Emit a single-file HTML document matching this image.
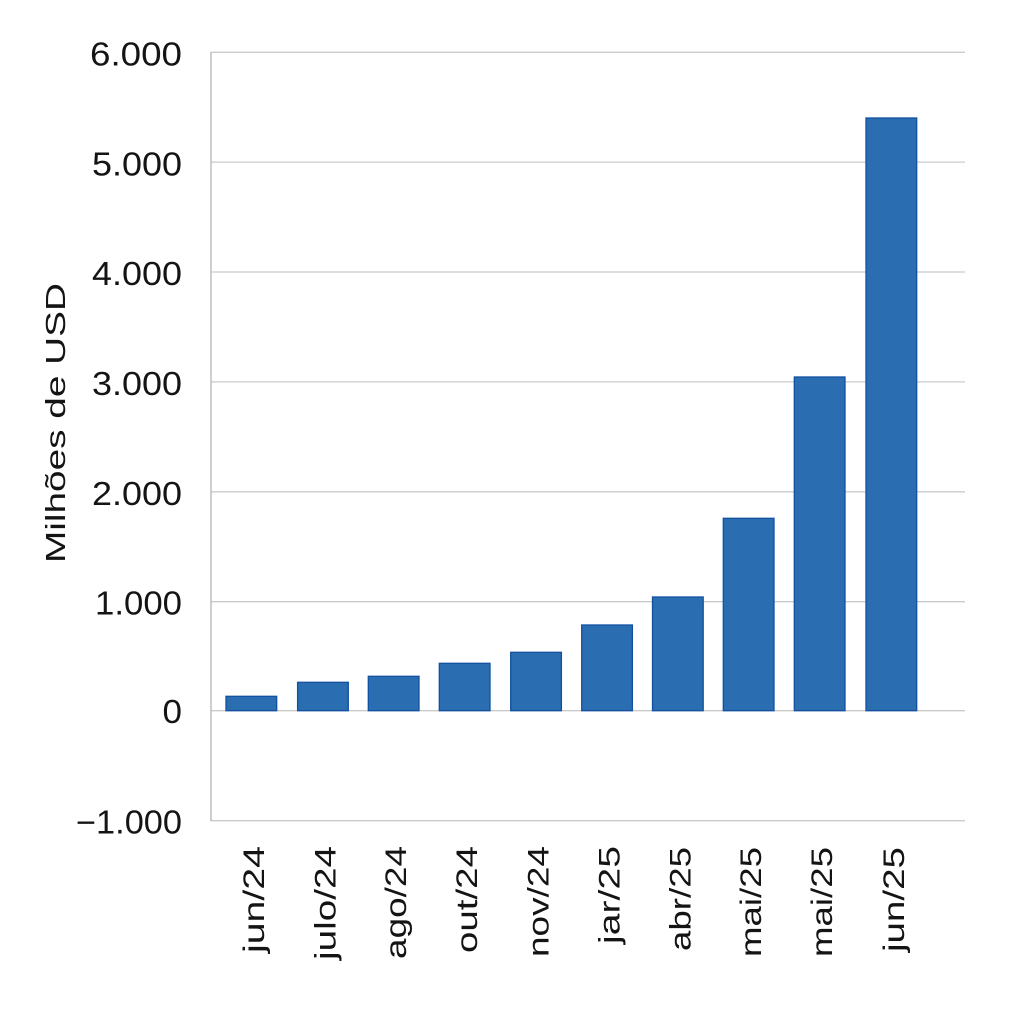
<!DOCTYPE html>
<html>
<head>
<meta charset="utf-8">
<style>
html,body{margin:0;padding:0;background:#fff;}
svg{display:block;}
text{font-family:"Liberation Sans",sans-serif;fill:#141414;}
</style>
</head>
<body>
<svg width="1024" height="1024" viewBox="0 0 1024 1024" xmlns="http://www.w3.org/2000/svg">
<rect width="1024" height="1024" fill="#fff"/>
<!-- gridlines -->
<g stroke="#cbcbcb" stroke-width="1.3">
<line x1="211" y1="52.3" x2="965" y2="52.3"/>
<line x1="211" y1="162.1" x2="965" y2="162.1"/>
<line x1="211" y1="272" x2="965" y2="272"/>
<line x1="211" y1="381.9" x2="965" y2="381.9"/>
<line x1="211" y1="491.8" x2="965" y2="491.8"/>
<line x1="211" y1="601.7" x2="965" y2="601.7"/>
<line x1="211" y1="710.7" x2="965" y2="710.7"/>
<line x1="211" y1="820.7" x2="965" y2="820.7"/>
</g>
<line x1="211" y1="52" x2="211" y2="821.3" stroke="#b5b5b5" stroke-width="1.3"/>
<!-- bars -->
<g fill="#2a6db0" stroke="#1250a0" stroke-width="1.3">
<rect x="226" y="696.3" width="50.7" height="14.4"/>
<rect x="297.6" y="682.3" width="50.7" height="28.4"/>
<rect x="368.3" y="676.3" width="50.7" height="34.4"/>
<rect x="439.3" y="663.3" width="50.7" height="47.4"/>
<rect x="510.7" y="652.3" width="50.7" height="58.4"/>
<rect x="581.7" y="625" width="50.7" height="85.7"/>
<rect x="652.5" y="597" width="50.7" height="113.7"/>
<rect x="723.3" y="518.3" width="50.7" height="192.4"/>
<rect x="794.3" y="377" width="50.7" height="333.7"/>
<rect x="866" y="118" width="50.7" height="592.7"/>
</g>
<!-- y tick labels -->
<g font-size="33" text-anchor="end">
<text x="182" y="65.5" textLength="92" lengthAdjust="spacingAndGlyphs">6.000</text>
<text x="182" y="175.3" textLength="90" lengthAdjust="spacingAndGlyphs">5.000</text>
<text x="182" y="285.2" textLength="90" lengthAdjust="spacingAndGlyphs">4.000</text>
<text x="182" y="395.1" textLength="90" lengthAdjust="spacingAndGlyphs">3.000</text>
<text x="182" y="505" textLength="90" lengthAdjust="spacingAndGlyphs">2.000</text>
<text x="182" y="614.7" textLength="87" lengthAdjust="spacingAndGlyphs">1.000</text>
<text x="182" y="723.2" textLength="19.5" lengthAdjust="spacingAndGlyphs">0</text>
<text x="182" y="833.5" textLength="106" lengthAdjust="spacingAndGlyphs">−1.000</text>
</g>
<!-- y axis title -->
<text font-size="28" text-anchor="middle" transform="translate(65,423) rotate(-90)" textLength="280" lengthAdjust="spacingAndGlyphs">Milhões de USD</text>
<!-- x labels -->
<g font-size="30" text-anchor="end">
<text transform="translate(264,846) rotate(-90)" textLength="107" lengthAdjust="spacingAndGlyphs">jun/24</text>
<text transform="translate(335.4,846) rotate(-90)" textLength="114" lengthAdjust="spacingAndGlyphs">julo/24</text>
<text transform="translate(406.1,846) rotate(-90)" textLength="113" lengthAdjust="spacingAndGlyphs">ago/24</text>
<text transform="translate(477.1,846) rotate(-90)" textLength="107" lengthAdjust="spacingAndGlyphs">out/24</text>
<text transform="translate(548.5,846) rotate(-90)" textLength="111" lengthAdjust="spacingAndGlyphs">nov/24</text>
<text transform="translate(619.5,846) rotate(-90)" textLength="98" lengthAdjust="spacingAndGlyphs">jar/25</text>
<text transform="translate(690.3,847) rotate(-90)" textLength="104" lengthAdjust="spacingAndGlyphs">abr/25</text>
<text transform="translate(761.1,847) rotate(-90)" textLength="110" lengthAdjust="spacingAndGlyphs">mai/25</text>
<text transform="translate(832.1,847) rotate(-90)" textLength="110" lengthAdjust="spacingAndGlyphs">mai/25</text>
<text transform="translate(903.8,847) rotate(-90)" textLength="105" lengthAdjust="spacingAndGlyphs">jun/25</text>
</g>
</svg>
</body>
</html>
